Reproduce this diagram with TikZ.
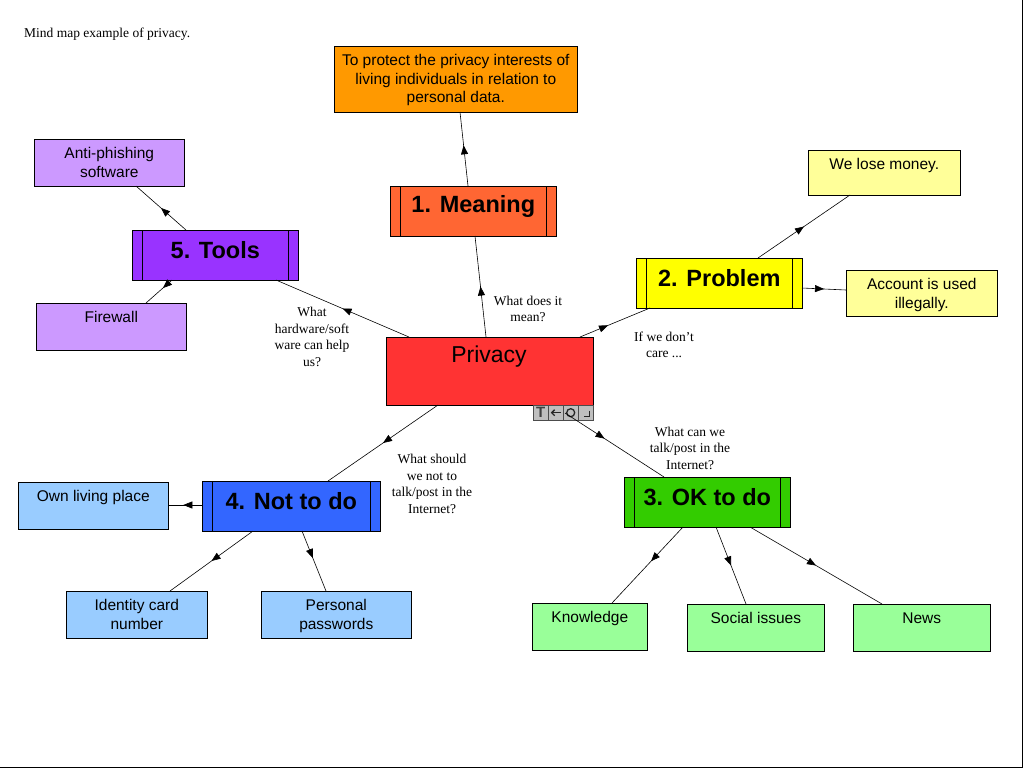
\documentclass[tikz,border=0pt]{standalone}
\usepackage{fontspec}
\setmainfont{Liberation Serif}
\newfontfamily\sans{Liberation Sans}
\usetikzlibrary{decorations.markings,arrows.meta,calc}
\begin{document}
\begin{tikzpicture}[x=1pt,y=-1pt,
 box/.style={draw=black,line width=0.6pt,inner sep=0pt,align=center},
 lbl/.style={font=\fontsize{13.5}{16.5}\selectfont,align=center,inner sep=0pt},
 ed/.style={line width=0.6pt,postaction={decorate},decoration={markings,mark=at position #1 with {\arrow{Triangle[length=9pt,width=7pt]}}}}]
\useasboundingbox (0,0) rectangle (1025,769);
\draw[line width=0.8pt] (1022,0) -- (1022,767) -- (0,767);
\node[anchor=west,font=\fontsize{13.5}{16.5}\selectfont,inner sep=0pt] (title) at (24,34) {Mind map example of privacy.};
\newcommand\bx[7]{% name, x1,y1,x2,y2, color, text
 \node[box,fill=#6,minimum width=#4-#2,minimum height=#5-#3,anchor=north west] (#1) at (#2,#3) {};
 \node[font=\sans\fontsize{15.5}{18.5}\selectfont,align=center,anchor=north,inner sep=0pt] (#1t) at ($(#1.north)+(0,8.5)$) {#7};}
\newcommand\hd[7]{%
 \node[box,fill=#6,minimum width=#4-#2,minimum height=#5-#3,anchor=north west] (#1) at (#2,#3) {};
 \draw[line width=0.6pt] (#2+10,#3) -- (#2+10,#5) (#4-10,#3) -- (#4-10,#5);
 \node[font=\sans\bfseries\fontsize{23.5}{26}\selectfont,inner sep=0pt] (#1t) at ($(#1.center)+(0,-5)$) {#7};}
\definecolor{cOr}{HTML}{FF9900}\definecolor{cMe}{HTML}{FF6633}
\definecolor{cPu}{HTML}{9933FF}\definecolor{cLp}{HTML}{CC99FF}
\definecolor{cYe}{HTML}{FFFF00}\definecolor{cLy}{HTML}{FFFF99}
\definecolor{cGr}{HTML}{33CC00}\definecolor{cLg}{HTML}{99FF99}
\definecolor{cBl}{HTML}{3366FF}\definecolor{cLb}{HTML}{99CCFF}
\definecolor{cRe}{HTML}{FF3333}
\bx{def}{334}{46}{577}{112}{cOr}{To protect the privacy interests of\\living individuals in relation to\\personal data.}
\hd{mean}{390}{186}{556}{236}{cMe}{1. Meaning}
\hd{tools}{132}{230}{298}{280}{cPu}{5. Tools}
\hd{prob}{636}{258}{802}{308}{cYe}{2. Problem}
\hd{ok}{624}{477}{790}{527}{cGr}{3. OK to do}
\hd{not}{202}{481}{380}{531}{cBl}{4. Not to do}
\node[box,fill=cRe,minimum width=207,minimum height=68,anchor=north west] (priv) at (386,337) {};
\node[font=\sans\fontsize{23}{26}\selectfont,inner sep=0pt] (privt) at (489,357) {Privacy};
\bx{anti}{34}{139}{184}{186}{cLp}{Anti-phishing\\software}
\bx{fire}{36}{303}{186}{350}{cLp}{Firewall}
\bx{lose}{808}{150}{960}{195}{cLy}{We lose money.}
\bx{acc}{846}{270}{997}{316}{cLy}{Account is used\\illegally.}
\bx{own}{18}{482}{168}{529}{cLb}{Own living place}
\bx{idc}{66}{591}{207}{638}{cLb}{Identity card\\number}
\bx{pw}{261}{591}{411}{638}{cLb}{Personal\\passwords}
\bx{kn}{532}{603}{647}{650}{cLg}{Knowledge}
\bx{soc}{687}{604}{824}{651}{cLg}{Social issues}
\bx{news}{853}{604}{990}{651}{cLg}{News}
% toolbar
\foreach \i in {0,1,2,3}{\node[draw=black!70,fill=black!25,minimum size=15,inner sep=0pt,line width=0.4pt,anchor=north west] (tb\i) at (533+15*\i,405) {};}
\node[font=\sans\bfseries\fontsize{15}{15}\selectfont,text=black!75,inner sep=0pt] at (tb0) {T};
\draw[line width=1.3pt,black!85] ($(tb1)+(5,0)$) -- ($(tb1)+(-4,0)$);
\draw[line width=1.3pt,black!85] ($(tb1)+(-1,-3)$) -- ($(tb1)+(-4,0)$) -- ($(tb1)+(-1,3)$);
\draw[line width=1.3pt,black!85] (tb2) circle (4);
\draw[line width=1.5pt,black!85] ($(tb3)+(4,-2)$) -- ($(tb3)+(4,4)$) -- ($(tb3)+(-2,4)$);
% edges
\coordinate (p1) at (486,337); \coordinate (m1) at (475,236);
\draw[ed=0.5] (p1) -- (m1);
\coordinate (m2) at (468,186); \coordinate (d2) at (460,112);
\draw[ed=0.55] (m2) -- (d2);
\coordinate (p3) at (580,337); \coordinate (r3) at (650,308);
\draw[ed=0.4] (p3) -- (r3);
\coordinate (r4) at (758,258); \coordinate (l4) at (850,195);
\draw[ed=0.5] (r4) -- (l4);
\coordinate (r5) at (802,288); \coordinate (a5) at (846,290);
\draw[ed=0.5] (r5) -- (a5);
\coordinate (p6) at (565,413); \coordinate (o6) at (664,477);
\draw[ed=0.4] (p6) -- (o6);
\coordinate (o7) at (683,527); \coordinate (k7) at (612,603);
\draw[ed=0.45] (o7) -- (k7);
\coordinate (o8) at (716,527); \coordinate (s8) at (746,604);
\draw[ed=0.5] (o8) -- (s8);
\coordinate (o9) at (750,527); \coordinate (n9) at (882,604);
\draw[ed=0.5] (o9) -- (n9);
\coordinate (p10) at (438,405); \coordinate (t10) at (328,481);
\draw[ed=0.5] (p10) -- (t10);
\coordinate (t11) at (202,505); \coordinate (w11) at (168,505);
\draw[ed=0.55] (t11) -- (w11);
\coordinate (t12) at (253,531); \coordinate (i12) at (170,591);
\draw[ed=0.5] (t12) -- (i12);
\coordinate (t13) at (302,531); \coordinate (q13) at (326,591);
\draw[ed=0.45] (t13) -- (q13);
\coordinate (p14) at (409,337); \coordinate (u14) at (276,280);
\draw[ed=0.5] (p14) -- (u14);
\coordinate (u15) at (186,230); \coordinate (a15) at (136,186);
\draw[ed=0.5] (u15) -- (a15);
\coordinate (u16) at (172,280); \coordinate (f16) at (146,303);
\draw[ed=0.35] (u16) -- (f16);
% labels
\node[lbl] (L1) at (528,309) {What does it\\mean?};
\node[lbl] (L2) at (664,345) {If we don't\\care ...};
\node[lbl] (L3) at (690,448) {What can we\\talk/post in the\\Internet?};
\node[lbl] (L4) at (432,484) {What should\\we not to\\talk/post in the\\Internet?};
\node[lbl] (L5) at (312,337) {What\\hardware/soft\\ware can help\\us?};
\end{tikzpicture}
\end{document}
